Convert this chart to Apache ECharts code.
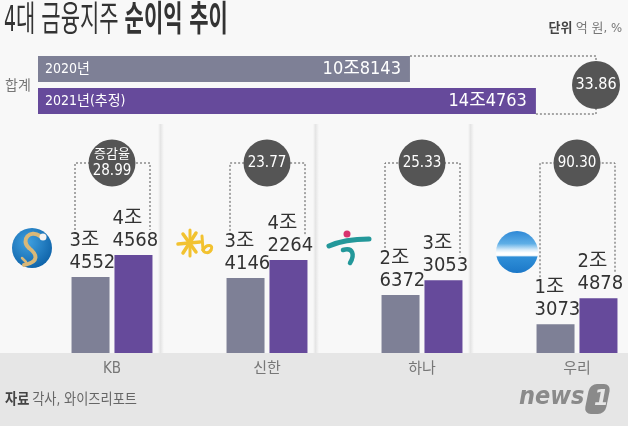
<!DOCTYPE html>
<html><head><meta charset="utf-8">
<script src="https://cdn.jsdelivr.net/npm/echarts@6/dist/echarts.min.js"></script>
<style>html,body{margin:0;padding:0;}#c{width:628px;height:426px;}</style>
</head><body><div id="c"></div>
<script>
const years = ['2020년', '2021년(추정)'];
const totalValues = [108143, 144763];
const totalGrowth = 33.86;
const companies = ['KB', '신한', '하나', '우리'];
const values2020 = [34552, 34146, 26372, 13073];
const values2021 = [44568, 42264, 33053, 24878];
const growthRates = [28.99, 23.77, 25.33, 90.30];

const FONT = "'DejaVu Sans Condensed', 'Noto Sans CJK KR', sans-serif";
const GRAY = '#7e8096', PURPLE = '#664a9b', CIRCLE = '#555555';
const fmtLine = v => Math.floor(v / 10000) + '조' + String(v % 10000).padStart(4, '0');
const fmtTwo = v => '{a|' + Math.floor(v / 10000) + '조}\n{a|' + String(v % 10000).padStart(4, '0') + '}';
const barLabel = {show: true, position: 'top', distance: 3, formatter: p => fmtTwo(p.value),
  rich: {a: {width: 42, align: 'left', color: '#333', fontSize: 20, lineHeight: 22, fontFamily: FONT}}};

function bez(p, color, w) {
  return {type: 'bezierCurve', shape: {x1: p[0], y1: p[1], cpx1: p[2], cpy1: p[3], cpx2: p[4], cpy2: p[5], x2: p[6], y2: p[7]},
    style: {fill: 'none', stroke: color, lineWidth: w, lineCap: 'round'}};
}
function ln(p, color, w) {
  return {type: 'line', shape: {x1: p[0], y1: p[1], x2: p[2], y2: p[3]}, style: {stroke: color, lineWidth: w, lineCap: 'round'}};
}
const GOLD = '#d9b878', KBY = '#f2c230', TEAL = '#23989a';

const chart = echarts.init(document.getElementById('c'));
chart.setOption({
  backgroundColor: '#f8f8f8',
  animation: false,
  graphic: [
    {type: 'rect', z: -10, shape: {x: 0, y: 353, width: 628, height: 73}, style: {fill: '#e6e6e6'}},
    ...[158, 313, 468].map(x => ({type: 'rect', z: -5, shape: {x: x, y: 124, width: 6, height: 229},
      style: {fill: new echarts.graphic.LinearGradient(0, 0, 1, 0, [
        {offset: 0, color: 'rgba(0,0,0,0.0)'}, {offset: 0.4, color: 'rgba(0,0,0,0.08)'}, {offset: 1, color: 'rgba(0,0,0,0)'}])}})),
    {type: 'text', x: 4, y: 4, scaleX: 0.6, style: {text: '{a|4대 금융지주 }{b|순이익 추이}', rich: {
      a: {fontSize: 35, fontFamily: FONT, fill: '#333', fontWeight: 'normal'},
      b: {fontSize: 35, fontFamily: FONT, fill: '#333', fontWeight: 'bold'}}}},
    {type: 'text', x: 622, y: 22, style: {text: '{a|단위} {b|억 원, %}', align: 'right', rich: {
      a: {fontSize: 13, fontFamily: FONT, fill: '#444', fontWeight: 'bold'},
      b: {fontSize: 13, fontFamily: FONT, fill: '#777'}}}},
    {type: 'text', x: 5, y: 79, style: {text: '합계', fontSize: 14, fontFamily: FONT, fill: '#777'}},
    {type: 'text', x: 5, y: 393, scaleX: 0.88, style: {text: '{a|자료} {b|각사, 와이즈리포트}', rich: {
      a: {fontSize: 15, fontFamily: FONT, fill: '#444', fontWeight: 'bold'},
      b: {fontSize: 15, fontFamily: FONT, fill: '#666'}}}},
    {type: 'text', x: 519, y: 385, scaleX: 0.9, style: {text: 'news', fontSize: 25, fontStyle: 'italic', fontWeight: 900, fontFamily: 'DejaVu Sans', fill: '#8a8a8a'}},
    {type: 'rect', x: 590, y: 384, skewX: -0.2, shape: {x: 0, y: 0, width: 21, height: 30, r: 7}, style: {fill: '#8a8a8a'}},
    {type: 'text', x: 594, y: 389, style: {text: '1', fontSize: 21, fontStyle: 'italic', fontWeight: 'bold', fontFamily: 'DejaVu Sans', fill: '#e6e6e6'}},
    // Shinhan logo
    {type: 'circle', shape: {cx: 32, cy: 248, r: 20}, style: {fill: new echarts.graphic.RadialGradient(0.4, 0.35, 0.7, [
      {offset: 0, color: '#3fa0e0'}, {offset: 1, color: '#0e62a8'}])}},
    bez([40, 236, 30, 229, 20, 240, 29, 248], GOLD, 4),
    bez([29, 248, 37, 254, 40, 262, 24, 265], GOLD, 4),
    {type: 'circle', shape: {cx: 43, cy: 237, r: 3.5}, style: {fill: '#f3f3f3'}},
    ln([22, 258, 26, 262], GOLD, 2.5),
    // KB logo
    ln([178, 244, 200, 242], KBY, 3.5),
    ln([183, 234, 196, 252], KBY, 3.5),
    ln([196, 233, 183, 253], KBY, 3.5),
    ln([190, 230, 190, 256], KBY, 3),
    ln([202, 236, 203, 250], KBY, 3),
    bez([203, 250, 207, 243, 214, 245, 211, 250], KBY, 3),
    bez([211, 250, 209, 254, 204, 253, 203, 250], KBY, 3),
    // Hana logo
    {type: 'circle', shape: {cx: 347, cy: 234, r: 3.5}, style: {fill: '#d8336f'}},
    bez([329, 246, 340, 241, 356, 239, 369, 239], TEAL, 5),
    bez([343, 250, 353, 247, 355, 255, 350, 263], TEAL, 4.5),
    // Woori logo
    {type: 'circle', shape: {cx: 517, cy: 252, r: 21}, style: {fill: new echarts.graphic.LinearGradient(0, 0, 0, 1, [
      {offset: 0, color: '#2e88d6'}, {offset: 0.3, color: '#5eaee6'}, {offset: 0.45, color: '#d8ecfa'}, {offset: 0.52, color: '#ffffff'},
      {offset: 0.58, color: '#ffffff'}, {offset: 0.62, color: '#2f8fd8'}, {offset: 1, color: '#1c78c8'}])}}
  ],
  grid: [
    {left: 38, top: 53, width: 540, height: 64, outerBoundsMode: 'none', containLabel: false},
    {left: 34.5, top: 133, width: 620, height: 220, outerBoundsMode: 'none', containLabel: false}
  ],
  xAxis: [
    {gridIndex: 0, type: 'value', min: 0, max: 157000, show: false},
    {gridIndex: 1, type: 'category', data: companies, axisLine: {show: false}, axisTick: {show: false},
      axisLabel: {color: '#777', fontSize: 15, fontFamily: FONT, margin: 9}}
  ],
  yAxis: [
    {gridIndex: 0, type: 'category', data: years, inverse: true, z: 10, axisLine: {show: false}, axisTick: {show: false},
      axisLabel: {inside: true, margin: 7, color: '#fff', fontSize: 14, fontFamily: FONT}},
    {gridIndex: 1, type: 'value', min: 0, max: 100000, show: false, splitLine: {show: false}}
  ],
  series: [
    {type: 'bar', xAxisIndex: 0, yAxisIndex: 0, barWidth: 26,
      data: totalValues.map((v, i) => ({value: v, itemStyle: {color: i === 0 ? GRAY : PURPLE}})),
      label: {show: true, position: 'insideRight', distance: 9, color: '#fff', fontSize: 18, fontFamily: FONT, formatter: p => fmtLine(p.value)}},
    {type: 'custom', xAxisIndex: 0, yAxisIndex: 0, encode: {x: 0, y: 1}, z: 1,
      data: [[totalValues[0], 0, totalValues[1], totalGrowth]],
      renderItem: (params, api) => {
        const a = api.coord([api.value(0), 0]);
        const b = api.coord([api.value(2), 1]);
        const topY = a[1] - 13, botY = b[1] + 13, cx = 596, cy = (topY + botY) / 2;
        const ls = {fill: 'none', stroke: '#555', lineWidth: 1, lineDash: [2, 2]};
        return {type: 'group', children: [
          {type: 'polyline', shape: {points: [[a[0], topY], [cx, topY], [cx, cy]]}, style: ls},
          {type: 'polyline', shape: {points: [[b[0], botY], [cx, botY], [cx, cy]]}, style: ls},
          {type: 'circle', shape: {cx: cx, cy: cy, r: 24}, style: {fill: CIRCLE}},
          {type: 'text', x: cx, y: cy, style: {text: api.value(3).toFixed(2), fill: '#fff', fontSize: 16, fontFamily: FONT, align: 'center', verticalAlign: 'middle'}}
        ]};
      }},
    {type: 'bar', xAxisIndex: 1, yAxisIndex: 1, name: '2020', data: values2020, barWidth: 38, barGap: '13%', itemStyle: {color: GRAY}, label: barLabel},
    {type: 'bar', xAxisIndex: 1, yAxisIndex: 1, name: '2021', data: values2021, barWidth: 38, barGap: '13%', itemStyle: {color: PURPLE}, label: barLabel},
    {type: 'custom', xAxisIndex: 1, yAxisIndex: 1, encode: {x: 0, y: 3}, z: 1,
      data: companies.map((c, i) => [i, growthRates[i], values2020[i], values2021[i]]),
      renderItem: (params, api) => {
        const idx = api.value(0);
        const g = api.coord([idx, api.value(2)]);
        const p = api.coord([idx, api.value(3)]);
        const cx = g[0], cy = 163, xl = cx - 37, xr = cx + 38;
        const ls = {fill: 'none', stroke: '#555', lineWidth: 1, lineDash: [2, 2]};
        const rate = api.value(1).toFixed(2);
        const children = [
          {type: 'polyline', shape: {points: [[xl, g[1] - 43], [xl, cy], [xr, cy], [xr, p[1] - 25]]}, style: ls},
          {type: 'circle', shape: {cx: cx, cy: cy, r: 23.5}, style: {fill: CIRCLE}}
        ];
        if (idx === 0) {
          children.push({type: 'text', x: cx, y: cy, style: {text: '{s|증감율}\n{n|' + rate + '}', align: 'center', verticalAlign: 'middle',
            rich: {s: {fill: '#fff', fontSize: 13, lineHeight: 17, fontFamily: FONT}, n: {fill: '#fff', fontSize: 15, lineHeight: 17, fontFamily: FONT}}}});
        } else {
          children.push({type: 'text', x: cx, y: cy, style: {text: rate, fill: '#fff', fontSize: 15, fontFamily: FONT, align: 'center', verticalAlign: 'middle'}});
        }
        return {type: 'group', children: children};
      }}
  ]
});
</script></body></html>
